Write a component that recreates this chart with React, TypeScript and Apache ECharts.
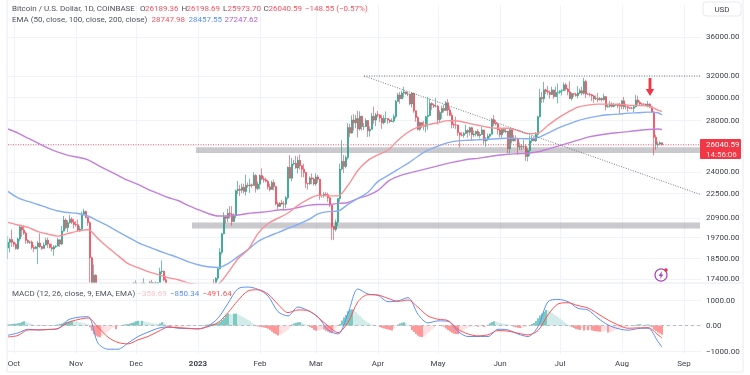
import React, { useEffect, useRef } from "react";
import * as echarts from "echarts";

const firstOpen = 19090;
const closes = [
  19420,19590,19430,
  19310,19060,19620,20340,20160,19960,19530,19420,19440,19130,19060,19155,19380,19180,19070,19265,19550,19330,19125,19040,19165,19205,19570,19330,20090,20770,20295,20595,20820,20630,20490,
  20480,20150,20210,21145,21300,20925,20600,18540,15880,17590,17070,16810,16330,16620,16900,16660,16690,16700,16630,16280,15780,16220,16600,16600,16520,16460,16430,16210,16440,17170,
  16970,17090,16890,17110,16970,17090,16840,17230,17130,17130,17090,17210,17780,17810,17360,16630,16780,16740,16440,16900,16820,16830,16780,16840,16840,16920,16710,16550,16630,16600,16540,
  16610,16670,16680,16860,16830,16950,16940,17120,17180,17440,17940,18850,19930,20970,20880,21190,21130,20680,21080,22680,22780,22710,22920,22630,23060,23010,23080,23030,23740,22830,23130,
  23730,23490,23430,23330,22940,22760,23240,22960,21800,21630,21860,21790,21780,22200,24330,23540,24570,24630,24280,24840,24450,24190,23950,23190,23160,23560,23490,23140,
  23630,23470,22360,22350,22430,22410,22200,21710,20370,20190,20630,22160,24200,24770,24380,25050,27420,26970,28040,27800,28170,27300,28350,27490,27490,28000,27140,27270,28350,28030,28480,
  28460,28200,27800,28170,28170,28040,27920,27950,28330,29650,30230,29880,30400,30490,30320,30320,29430,30400,28820,28250,27270,27820,27600,27510,28310,28420,29470,29340,29230,29230,
  28070,28680,29030,28850,29530,28900,28450,27660,27630,27620,26980,26800,26780,26930,27170,27030,27400,26830,26890,27100,26750,26850,27220,26330,26480,26710,26870,28080,27750,27700,27220,
  26820,27250,27070,27120,25730,27230,26340,26500,26480,25850,25920,25900,25900,25130,25590,26340,26510,26340,26850,28310,30010,29890,30700,30550,30470,30270,30690,30080,30450,30480,
  30590,30620,31160,30770,30510,29900,30350,30290,30170,30410,30620,30380,31470,30310,30290,30240,30140,29860,29910,29800,29910,29790,30080,29180,29230,29350,29210,29320,29350,29280,29230,
  29700,29170,29180,29080,29050,29040,29180,29770,29560,29430,29400,29420,29280,29400,29170,28730,26620,26050,26100,26189.36,26040.59,
];
const highs = [
  19790,19650,20180,
  19480,19400,19700,20470,20360,20450,20060,19610,19510,19530,19270,19220,19500,19950,19210,19410,19690,19700,19350,19350,19250,19260,19690,19600,20400,21020,20870,20750,21080,20940,20840,
  20700,20800,20400,21300,21480,21370,20900,20690,18600,18170,17650,17100,16900,17190,17130,16990,16730,16980,16800,16640,16290,16300,16700,16790,16660,16700,16600,16480,16630,17240,
  17320,17100,17160,17200,17430,17110,17140,17300,17350,17220,17270,17240,18000,18390,17840,17530,16800,16830,16820,17050,16900,16860,16940,16860,16920,16950,16940,16790,16650,16630,16640,
  16630,16780,16760,17000,16880,17000,16960,17180,17390,17490,18000,19090,19990,21260,21050,21480,21640,21650,21190,22760,23350,23080,23170,23160,23800,23240,23510,23180,23960,23830,23310,
  23810,24250,23690,23590,23430,23160,23370,23450,23010,21950,21910,22070,21990,22320,24380,25250,25020,24880,25180,25120,25280,24470,24590,23890,23210,23680,23880,23600,
  23890,23780,23480,22420,22600,22600,22550,22270,21820,20310,20800,22180,24600,26390,25250,25200,27780,27730,28430,28530,28470,28820,28780,28420,27790,28180,28020,27510,28650,29180,28650,
  28810,28530,28480,28450,28770,28180,28110,28170,28530,29770,30420,30500,30620,31000,30550,30550,30310,30480,30400,28730,28370,27880,27800,27970,28390,30020,29890,29580,29450,29960,
  29340,28880,29270,29370,29680,29850,29150,28660,27830,28320,27650,26990,27030,27050,27650,27300,27480,27480,27180,27150,27280,27050,27490,27220,26630,26930,26900,28200,28450,28040,27830,
  27350,27300,27320,27400,27130,27350,27370,26800,26780,26530,26210,26090,26430,26070,25750,26770,26770,26690,27040,28400,30800,30500,31430,30800,31050,30650,31000,30700,31000,31280,
  30660,30790,31380,31320,30870,31500,30450,30380,30440,31040,30810,30980,31820,31640,30400,30440,30330,30240,30190,30410,30050,29990,30340,30100,29390,29680,29570,29530,29410,29450,29530,
  29740,30050,29440,29320,29110,29160,29240,30240,30160,29720,29540,29470,29450,29690,29490,29230,28780,26830,26290,26300,26198.69,
];
const lows = [
  18470,18860,19160,
  19160,19000,18980,19500,19750,19860,19340,19340,19320,19020,18850,19020,18190,19090,18980,19060,19250,19100,19070,18900,18650,19100,19190,19160,19250,20060,20200,20000,20550,20520,20240,
  20350,20060,20050,20170,21080,20900,20400,17170,15600,15790,16370,16750,16250,15810,16530,16400,16440,16610,16550,16180,15480,15630,16150,16460,16360,16400,16400,15990,16100,16430,
  16860,16790,16880,16880,16880,16910,16680,16740,17100,17090,17060,16880,17090,17660,17280,16590,16580,16640,16290,16390,16740,16600,16760,16780,16790,16800,16600,16470,16500,16350,16460,
  16490,16550,16620,16660,16780,16670,16910,16910,17110,17160,17320,17900,18720,19890,20560,20640,20860,20410,20650,20880,22430,22320,22520,22490,22340,22880,22530,22880,23020,22550,22720,
  22780,23410,23230,23250,22760,22630,22760,22700,21710,21470,21600,21750,21370,21530,22090,23530,23350,24460,24220,23880,24160,23610,23610,22860,22750,23080,23120,23030,
  23020,23210,22070,22200,22210,22340,21930,21600,19570,19550,20060,20390,21930,24100,23920,24250,24900,26630,26910,27150,27360,26620,27150,27170,27200,27450,26640,26670,27250,27730,27530,
  28250,27870,27300,27670,27830,27720,27780,27890,27810,28170,29620,29440,29900,29990,30240,30120,29300,29120,28650,27900,27170,27140,27370,27190,27020,27240,28380,28900,29060,29100,
  27670,27860,28130,28670,28840,28400,28380,27350,27380,27300,26740,25820,26690,26580,26880,26580,26760,26370,26650,26690,26690,26540,26810,26100,25880,26340,26600,26860,27540,27570,26850,
  26610,26550,26950,26950,25390,25350,26130,26280,26280,25300,25620,25610,25720,24800,24760,25170,26160,26310,26260,26600,28260,29530,29550,30300,30240,29900,30230,29880,30050,29470,
  30320,30180,30580,30630,30200,29860,29720,30050,30070,29940,30310,30210,30260,29950,30250,30090,29660,29530,29760,29570,29720,29630,29720,28860,29090,29100,29100,29130,29260,29060,28590,
  28960,28950,28950,28750,28980,28970,28720,29120,29350,29320,29250,29350,29240,29120,29050,28720,25220,25650,25810,25970,25973.7,
];

// Values read every fifth day, and on the last candle.
const ema50 = [
  20620,20460,20310,20060,19910,19790,19940,20090,20170,19640,
  19120,18660,18220,18000,17790,17630,17470,17360,17200,17080,
  16950,17100,17730,18490,19000,19940,20550,20880,21210,21700,
  22090,22360,22330,22330,23040,24110,24840,25260,25610,26390,
  27030,27440,27650,27810,27990,27950,27780,27600,27440,27360,
  27360,27170,26920,26960,27600,28200,28710,29150,29320,29410,
  29410,29410,29320,29280,29230,28880,28747.98,
];
const ema100 = [
  22630,22190,21960,21760,21530,21340,21240,21180,21020,20710,
  20400,20060,19730,19410,19170,18950,18750,18550,18330,18160,
  18050,18010,18220,18610,19000,19470,19760,20000,20250,20490,
  20770,21150,21300,21340,21760,22160,22570,23320,23740,24180,
  24620,25150,25610,25920,26200,26340,26390,26430,26470,26510,
  26550,26530,26500,26590,26960,27360,27680,27990,28200,28370,
  28480,28540,28620,28660,28710,28660,28457.55,
];
const ema200 = [
  27290,26960,26550,26160,25770,25460,25220,25070,24880,24470,
  24110,23740,23390,23110,22770,22490,22220,22020,21700,21430,
  21180,21020,21020,21080,21180,21240,21300,21400,21430,21560,
  21700,21760,21760,21830,21890,22160,22360,22700,23320,23670,
  23890,24070,24250,24430,24620,24770,24920,24990,25110,25220,
  25300,25340,25380,25490,25690,25920,26160,26390,26630,26790,
  26910,27000,27080,27170,27250,27290,27247.62,
];
const macdLine = [
  -380,-290,-145,-170,-155,-118,220,325,350,-690,
  -930,-930,-690,-430,-260,-105,-50,-105,-118,-130,
  -15,290,875,1450,1515,1425,1165,550,380,730,
  590,340,-170,-330,480,1440,1240,1190,940,970,
  1100,445,105,185,170,-235,-430,-430,-430,-145,
  -170,-330,-430,-40,940,1030,940,680,615,290,
  25,-120,-180,-120,-105,-630,-850.34,
];
const signalLine = [
  -445,-390,-170,-170,-155,-118,118,235,300,-65,
  -455,-665,-720,-560,-430,-235,-65,-80,-105,-130,
  -40,120,510,990,1360,1410,1240,835,510,615,
  590,325,-15,-275,130,940,1215,1200,1070,955,
  1005,720,380,250,195,-145,-330,-405,-365,-195,
  -220,-300,-365,-195,420,850,900,785,690,460,
  220,25,-105,-90,-80,-365,-491.64,
];
const histogram = [
  40,50,60,70,70,90,100,140,170,150,
  120,90,60,30,20,10,-10,-15,10,15,
  -10,10,15,20,30,40,60,80,110,140,
  150,170,190,170,160,150,130,110,90,70,
  50,-70,-200,-330,-400,-440,-460,-400,-340,-280,
  -220,-160,-100,-60,-140,-30,-10,20,40,50,
  60,80,100,130,170,190,180,190,170,150,
  130,110,90,80,70,60,80,130,120,60,
  -20,-60,-40,-30,-40,-30,-20,-30,-20,-15,
  20,-15,-10,-20,10,-10,-10,15,20,30,
  40,50,60,70,80,90,150,220,300,420,
  480,470,450,470,480,440,400,360,320,270,
  230,190,100,50,-30,-40,-50,-60,-80,-100,
  -120,-170,-240,-300,-340,-390,-370,-330,-280,-220,
  -160,-80,40,80,110,130,130,110,70,40,
  -20,-60,-100,-170,-200,-200,-190,-130,-150,-200,
  -240,-280,-300,-250,-100,0,60,200,320,420,
  560,630,640,600,530,450,380,300,230,170,
  110,70,40,20,10,5,-60,-90,-110,-130,
  -150,-170,-190,-110,-40,40,80,110,130,100,
  30,-20,-180,-250,-330,-400,-440,-450,-430,-380,
  -300,-220,-150,-80,-30,0,-15,-30,-50,-110,
  -170,-230,-280,-320,-330,-340,-300,-230,-160,-110,
  -80,-60,-40,-35,-25,-50,-30,-20,-60,-40,
  30,90,140,170,160,130,110,90,70,60,
  40,20,-20,-50,-70,-90,-100,-100,-70,-50,
  -20,20,60,100,180,290,400,480,540,610,
  590,550,500,440,400,340,280,210,150,90,
  40,-30,-60,-100,-130,-150,-170,-100,-190,-160,
  -180,-170,-190,-210,-220,-230,-240,-240,-230,-180,
  -270,-260,-250,-180,-150,-120,-100,-80,-70,-60,
  -40,-20,0,20,30,40,50,40,30,30,
  40,-30,-60,-150,-210,-270,-310,-358.69,
];

const monthDates = ["2022-10-01","2022-11-01","2022-12-01","2023-01-01","2023-02-01","2023-03-01","2023-04-01","2023-05-01","2023-06-01","2023-07-01","2023-08-01","2023-09-01"];
const monthLabels = ["Oct","Nov","Dec","2023","Feb","Mar","Apr","May","Jun","Jul","Aug","Sep"];
const priceTicks = [17400,18500,19700,20900,22500,24000,28000,30000,32000,36000];
const priceGrid = [17400,18500,19700,20900,22500,24000,26000,28000,30000,32000,36000];
const macdTicks = [-1000,0,1000];
const priceMin = 17190;
const priceMax = 39600;
const macdMin = -1118;
const macdMax = 1675;
const lastPrice = 26040.59;
const supportZone = ["2022-12-31", 25400, 25830];
const lowerZone = ["2022-12-29", 20250, 20620];
const resistance = [["2023-03-25", 32000], ["2023-09-09", 32000]];
const trendLine = [["2023-03-25", 32000], ["2023-09-09", 22430]];
const priceLine = [["2022-09-28", lastPrice], ["2023-09-09", lastPrice]];
const arrowAt = ["2023-08-15", 30960];

const headerRow1 = [
  { t: "Bitcoin / U.S. Dollar, 1D, COINBASE", x: 12, c: "#50535e" },
  { t: "O", x: 140, c: "#50535e" },
  { t: "26189.36", x: 145, c: "#f7525f" },
  { t: "H", x: 181.5, c: "#50535e" },
  { t: "26198.69", x: 186.5, c: "#f7525f" },
  { t: "L", x: 223, c: "#50535e" },
  { t: "25973.70", x: 227.5, c: "#f7525f" },
  { t: "C", x: 263.5, c: "#50535e" },
  { t: "26040.59", x: 268.5, c: "#f7525f" },
  { t: "\u2212148.55 (\u22120.57%)", x: 305, c: "#f7525f" },
];
const headerRow2 = [
  { t: "EMA (50, close, 100, close, 200, close)", x: 12, c: "#50535e" },
  { t: "28747.98", x: 151.5, c: "#f7525f" },
  { t: "28457.55", x: 188.5, c: "#5b8ff9" },
  { t: "27247.62", x: 224.5, c: "#b05ed1" },
];
const headerRow3 = [
  { t: "MACD (12, 26, close, 9, EMA, EMA)", x: 12, c: "#50535e" },
  { t: "\u2212358.69", x: 137.5, c: "#fbc4c8" },
  { t: "\u2212850.34", x: 170, c: "#5b8ff9" },
  { t: "\u2212491.64", x: 202.5, c: "#ff5252" },
];

const FONT = "Roboto, 'Noto Sans', sans-serif";
const toLog = (v: number) => Math.log10(v);

function buildDates() {
  const out: string[] = [];
  const start = Date.UTC(2022, 8, 28);
  for (let i = 0; i < 347; i++) out.push(new Date(start + i * 86400000).toISOString().slice(0, 10));
  return out;
}

export default function App() {
  const ref = useRef<HTMLDivElement>(null);
  useEffect(() => {
    const chart = echarts.init(ref.current!, undefined, { renderer: "svg" });
    const dates = buildDates();
    const monthSet = new Set(monthDates);
    const labelFor = (d: string) => {
      const l = monthLabels[monthDates.indexOf(d)];
      return l === "2023" ? `{b|${l}}` : l;
    };
    const isMonth = (_i: number, v: string) => monthSet.has(v);
    const opens = closes.map((_, i) => (i === 0 ? firstOpen : closes[i - 1]));
    // Candles are not clipped by the pane, so the part under the price scale is cut here.
    const floor = (v: number) => toLog(Math.max(v, priceMin));
    const candles = closes.map((c, i) =>
      highs[i] <= priceMin ? "-" : [floor(opens[i]), floor(c), floor(lows[i]), floor(highs[i])]
    );
    const sampled = (arr: number[], fn: (v: number) => number) =>
      arr.map((v, i) => [dates[Math.min(i * 5, 327)], fn(v)]);
    const same = (v: number) => v;
    const fmtMinus = (v: number) => (v < 0 ? "\u2212" : "") + Math.abs(v).toFixed(2);
    const texts = (rows: { t: string; x: number; c: string }[], y: number) =>
      rows.map((r) => ({
        type: "text",
        x: r.x,
        y,
        z: 100,
        style: { text: r.t, fill: r.c, font: `8px ${FONT}`, textVerticalAlign: "middle", textAlign: "left" },
      }));
    const lineSeries = (name: string, data: any[], color: string, xi = 0, width = 1.4) => ({
      name,
      type: "line",
      xAxisIndex: xi,
      yAxisIndex: xi,
      data,
      showSymbol: false,
      symbol: "none",
      silent: true,
      smooth: 0.3,
      lineStyle: { color, width },
      z: 5,
    });
    const dotted = (name: string, data: any[], color: string, z: number) => ({
      name,
      type: "line",
      xAxisIndex: 0,
      yAxisIndex: 0,
      data: data.map((d) => [d[0], toLog(d[1])]),
      symbol: "none",
      silent: true,
      lineStyle: { color, width: 1, type: [1, 1.5] },
      z,
    });
    const axisFont = { fontFamily: FONT, fontSize: 8, color: "#3f424d" };
    const option: any = {
      animation: false,
      backgroundColor: "#ffffff",
      grid: [
        { left: 7, top: 5, width: 694, height: 278 },
        { left: 7, top: 283, width: 694, height: 71 },
      ],
      xAxis: [0, 1].map((gi) => ({
        type: "category",
        gridIndex: gi,
        data: dates,
        boundaryGap: true,
        axisLine: { show: false },
        axisTick: { show: false },
        axisLabel:
          gi === 1
            ? {
                show: true,
                interval: isMonth,
                formatter: labelFor,
                margin: 5,
                hideOverlap: false,
                ...axisFont,
                rich: { b: { fontFamily: FONT, fontSize: 8, fontWeight: "bold", color: "#3f424d" } },
              }
            : { show: false },
        splitLine: { show: true, interval: isMonth, alignWithLabel: true, lineStyle: { color: "#f0f3fa", width: 1 } },
      })),
      yAxis: [
        {
          type: "value",
          gridIndex: 0,
          position: "right",
          min: toLog(priceMin),
          max: toLog(priceMax),
          axisLine: { show: false },
          axisTick: { show: false, customValues: priceGrid.map(toLog) },
          axisLabel: {
            margin: 5,
            customValues: priceTicks.map(toLog),
            formatter: (v: number) => Math.pow(10, v).toFixed(0) + ".00",
            ...axisFont,
          },
          splitLine: { show: true, lineStyle: { color: "#f0f3fa", width: 1 } },
        },
        {
          type: "value",
          gridIndex: 1,
          position: "right",
          min: macdMin,
          max: macdMax,
          axisLine: { show: false },
          axisTick: { show: false, customValues: macdTicks },
          axisLabel: { margin: 5, customValues: macdTicks, formatter: fmtMinus, ...axisFont },
          splitLine: { show: true, lineStyle: { color: "#f0f3fa", width: 1 } },
        },
      ],
      series: [
        {
          name: "BTCUSD",
          type: "candlestick",
          xAxisIndex: 0,
          yAxisIndex: 0,
          data: candles,
          barWidth: 1.8,
          silent: true,
          itemStyle: {
            color: "#15977f",
            color0: "#f23645",
            borderColor: "#15977f",
            borderColor0: "#f23645",
            borderWidth: 0.6,
          },
          z: 3,
          markArea: {
            silent: true,
            itemStyle: { color: "rgba(150,150,158,0.5)" },
            data: [
              [
                { xAxis: supportZone[0], yAxis: toLog(supportZone[1] as number) },
                { xAxis: "2023-09-09", yAxis: toLog(supportZone[2] as number) },
              ],
              [
                { xAxis: lowerZone[0], yAxis: toLog(lowerZone[1] as number) },
                { xAxis: "2023-09-09", yAxis: toLog(lowerZone[2] as number) },
              ],
            ],
          },
          markPoint: {
            silent: true,
            symbol: "path://M3,0 L6,0 L6,11 L9,11 L4.5,18 L0,11 L3,11 Z",
            symbolSize: [8.5, 18],
            symbolKeepAspect: false,
            itemStyle: { color: "#f23645" },
            label: { show: false },
            data: [{ coord: [arrowAt[0], toLog(arrowAt[1] as number)] }],
          },
        },
        dotted("Last price", priceLine, "#f56a75", 4),
        lineSeries("EMA 200", sampled(ema200, toLog), "#c27fdc"),
        lineSeries("EMA 100", sampled(ema100, toLog), "#85aef7"),
        lineSeries("EMA 50", sampled(ema50, toLog), "#fb8f96"),
        dotted("Resistance", resistance, "#787b86", 6),
        dotted("Trend line", trendLine, "#787b86", 6),
        {
          name: "Histogram",
          type: "bar",
          xAxisIndex: 1,
          yAxisIndex: 1,
          data: histogram,
          barWidth: 1.2,
          silent: true,
          itemStyle: {
            color: (p: any) => {
              const v = histogram[p.dataIndex];
              const prev = p.dataIndex > 0 ? histogram[p.dataIndex - 1] : 0;
              if (v >= 0) return v >= prev ? "#26a69a" : "#b2dfdb";
              return v < prev ? "#ff5252" : "#ffcdd2";
            },
          },
          markLine: {
            silent: true,
            symbol: "none",
            label: { show: false },
            lineStyle: { color: "#b8bac2", width: 1, type: [3, 3] },
            data: [{ yAxis: 0 }],
          },
        },
        lineSeries("MACD", sampled(macdLine, same), "#5b8ff9", 1, 1),
        lineSeries("Signal", sampled(signalLine, same), "#ff5252", 1, 1),
      ],
      graphic: [
        { type: "rect", z: 90, shape: { x: 7, y: -6, width: 736, height: 378 }, style: { fill: "none", stroke: "#e9ebf1", lineWidth: 1 } },
        { type: "line", z: 90, shape: { x1: 7, y1: 283, x2: 743, y2: 283 }, style: { stroke: "#e6e8ee", lineWidth: 1 } },
        { type: "rect", z: 90, shape: { x: 703, y: 2, width: 38, height: 14, r: 3 }, style: { fill: "#ffffff", stroke: "#e7e9ef", lineWidth: 1 } },
        { type: "text", z: 100, x: 722, y: 9, style: { text: "USD", fill: "#3f424d", font: `8px ${FONT}`, textAlign: "center", textVerticalAlign: "middle" } },
        { type: "rect", z: 90, shape: { x: 700, y: 139, width: 41, height: 20, r: 1 }, style: { fill: "#f23645" } },
        { type: "text", z: 100, x: 706, y: 144.5, style: { text: "26040.59", fill: "#ffffff", font: `8px ${FONT}`, textAlign: "left", textVerticalAlign: "middle" } },
        { type: "text", z: 100, x: 706, y: 154, style: { text: "14:56:06", fill: "#ffdfe2", font: `8px ${FONT}`, textAlign: "left", textVerticalAlign: "middle" } },
        { type: "circle", z: 90, shape: { cx: 661, cy: 275, r: 6 }, style: { fill: "#ffffff", stroke: "#ab47bc", lineWidth: 1.2 } },
        { type: "polygon", z: 91, shape: { points: [[662, 271], [658.5, 276], [660.6, 276], [660, 279], [663.5, 274.5], [661.4, 274.5]] }, style: { fill: "#ab47bc" } },
        { type: "circle", z: 92, shape: { cx: 666, cy: 270, r: 1.7 }, style: { fill: "#f23645" } },
        ...texts(headerRow1, 8),
        ...texts(headerRow2, 19),
        ...texts(headerRow3, 293),
      ],
    };
    chart.setOption(option);
    return () => chart.dispose();
  }, []);
  return <div ref={ref} style={{ position: "absolute", left: 0, top: 0, width: 750, height: 375, filter: "blur(0.35px)" }} />;
}
